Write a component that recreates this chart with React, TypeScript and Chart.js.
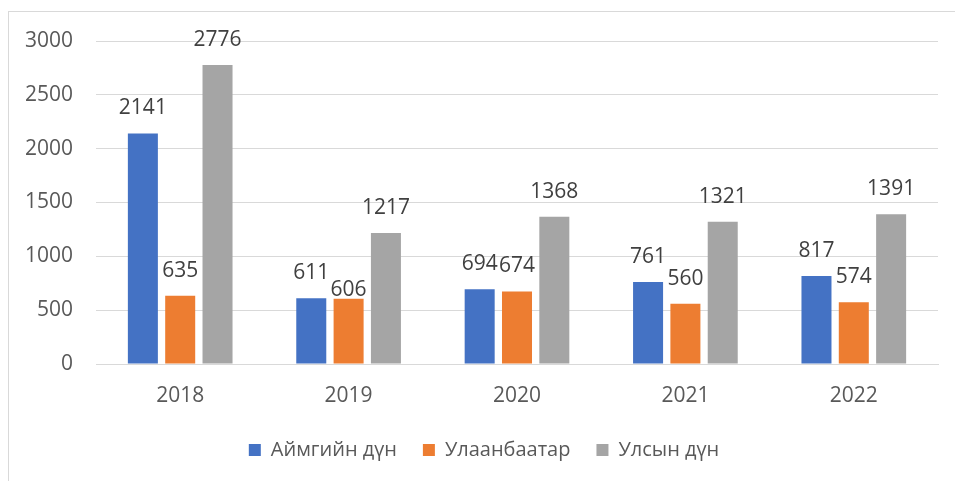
import React, { useEffect, useRef } from "react";
import { Chart, registerables } from "chart.js";

Chart.register(...registerables);

const categories = ["2018", "2019", "2020", "2021", "2022"];
const seriesNames = ["Аймгийн дүн", "Улаанбаатар", "Улсын дүн"];
const aimagValues = [2141, 611, 694, 761, 817];
const ubValues = [635, 606, 674, 560, 574];
const totalValues = [2776, 1217, 1368, 1321, 1391];
const seriesColors = ["#4472c4", "#ed7d31", "#a5a5a5"];
const yMin = 0;
const yMax = 3000;
const yStep = 500;

const FONT = "'Open Sans', 'Noto Sans', sans-serif";

// label nudges (dataset index, data index) -> extra downward shift in px
const labelNudges: Record<string, number> = { "1-1": 16 };

const dataLabelPlugin = {
  id: "dataLabels",
  afterDatasetsDraw(chart: any) {
    const ctx = chart.ctx;
    ctx.save();
    ctx.font = `21px ${FONT}`;
    ctx.fillStyle = "#404040";
    ctx.textAlign = "center";
    ctx.textBaseline = "middle";
    chart.data.datasets.forEach((ds: any, di: number) => {
      const meta = chart.getDatasetMeta(di);
      meta.data.forEach((el: any, i: number) => {
        const nudge = labelNudges[`${di}-${i}`] || 0;
        ctx.fillText(String(ds.data[i]), el.x, el.y - 25 + nudge);
      });
    });
    ctx.restore();
  },
};

const legendShiftPlugin = {
  id: "legendShift",
  afterLayout(chart: any) {
    if (chart.legend) {
      chart.legend.left += 15;
      chart.legend.right += 15;
    }
  },
};

export default function App() {
  const ref = useRef<HTMLCanvasElement | null>(null);

  useEffect(() => {
    if (!ref.current) return;
    const values = [aimagValues, ubValues, totalValues];
    const chart = new Chart(ref.current, {
      type: "bar",
      data: {
        labels: categories,
        datasets: seriesNames.map((name, i) => ({
          label: name,
          data: values[i],
          backgroundColor: seriesColors[i],
          borderWidth: 0,
          categoryPercentage: 0.665,
          barPercentage: 0.804,
        })),
      },
      options: {
        responsive: false,
        animation: false,
        devicePixelRatio: 1,
        layout: { padding: { left: 0, right: 17, top: 41, bottom: 11 } },
        plugins: {
          tooltip: { enabled: false },
          legend: {
            position: "bottom",
            labels: {
              boxWidth: 12,
              boxHeight: 12,
              padding: 26,
              color: "#595959",
              font: { family: FONT, size: 20 },
            },
          },
        },
        scales: {
          x: {
            grid: { display: false, drawTicks: false },
            border: { display: true, color: "#d9d9d9", width: 1 },
            ticks: {
              color: "#595959",
              font: { family: FONT, size: 21 },
              padding: 19,
            },
            afterFit: (scale: any) => {
              scale.height = 50;
            },
          },
          y: {
            min: yMin,
            max: yMax,
            grid: { color: "#d9d9d9", lineWidth: 1, drawTicks: false },
            border: { display: false },
            ticks: {
              stepSize: yStep,
              color: "#595959",
              font: { family: FONT, size: 21 },
              padding: 23,
              callback: (v: any) => String(v),
            },
            afterFit: (scale: any) => {
              scale.width = 96;
            },
          },
        },
      },
      plugins: [dataLabelPlugin, legendShiftPlugin],
    });
    return () => chart.destroy();
  }, []);

  return (
    <div
      style={{
        position: "absolute",
        left: 0,
        top: 0,
        width: 955,
        height: 481,
        background: "#ffffff",
        overflow: "hidden",
      }}
    >
      <div
        style={{
          position: "absolute",
          left: 8,
          top: 11,
          width: 1000,
          height: 1000,
          border: "1px solid #d9d9d9",
        }}
      />
      <canvas
        ref={ref}
        width={955}
        height={481}
        style={{ position: "absolute", left: 0, top: 0, width: 955, height: 481 }}
      />
    </div>
  );
}
